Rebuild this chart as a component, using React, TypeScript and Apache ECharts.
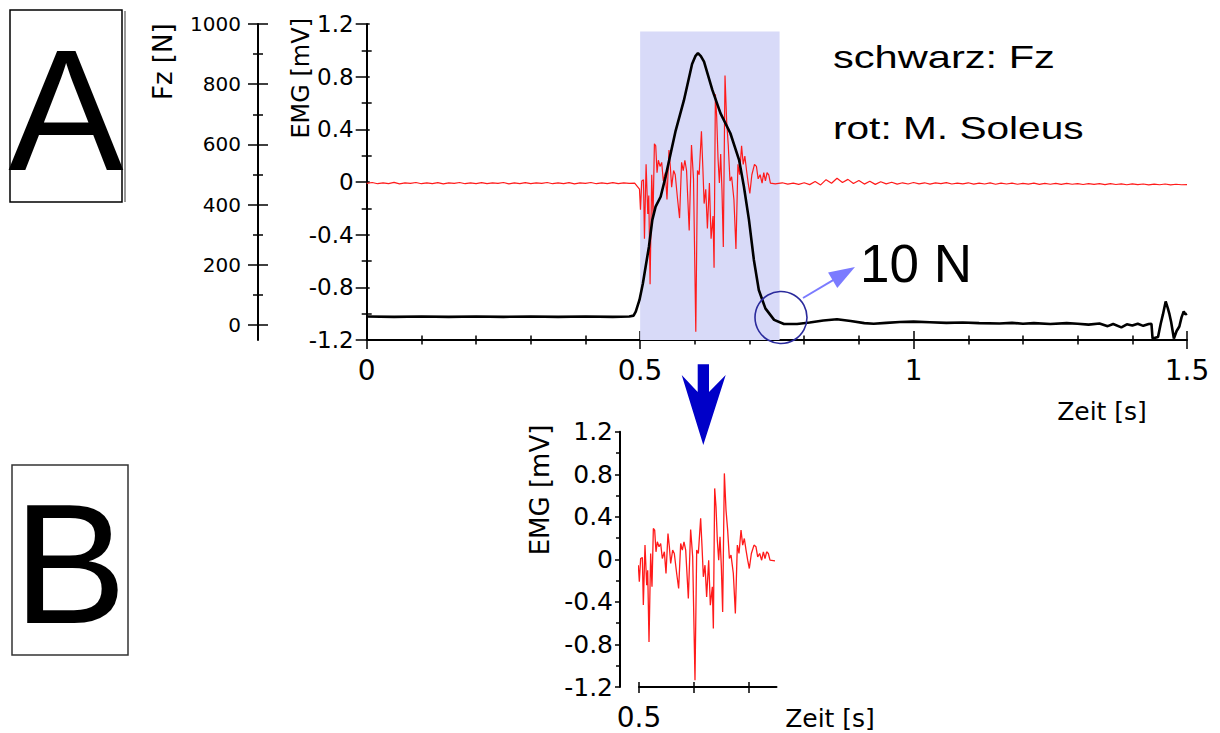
import React, { useEffect, useRef } from "react";
import * as echarts from "echarts";

// ---------- data ----------
const emgPreT = [0, 0.01, 0.02, 0.03, 0.04, 0.05, 0.06, 0.07, 0.08, 0.09, 0.1, 0.11, 0.12, 0.13, 0.14, 0.15, 0.16, 0.17, 0.18, 0.19, 0.2, 0.21, 0.22, 0.23, 0.24, 0.25, 0.26, 0.27, 0.28, 0.29, 0.3, 0.31, 0.32, 0.33, 0.34, 0.35, 0.36, 0.37, 0.38, 0.39, 0.4, 0.41, 0.42, 0.43, 0.44, 0.45, 0.46, 0.47, 0.48, 0.49];
const emgPreV = [-0.01, -0.004, -0.013, -0.006, -0.012, -0.003, -0.014, -0.007, -0.011, -0.004, -0.013, -0.006, -0.012, -0.005, -0.014, -0.006, -0.011, -0.004, -0.013, -0.007, -0.012, -0.005, -0.013, -0.006, -0.011, -0.004, -0.014, -0.006, -0.012, -0.005, -0.013, -0.007, -0.011, -0.004, -0.013, -0.006, -0.012, -0.005, -0.014, -0.006, -0.011, -0.004, -0.013, -0.007, -0.012, -0.005, -0.013, -0.006, -0.011, -0.008];

const emgBurstT = [0.4988, 0.5006, 0.503, 0.5061, 0.5079, 0.5109, 0.514, 0.5158, 0.5182, 0.5212, 0.5236, 0.5261, 0.5285, 0.5309, 0.5333, 0.5364, 0.5394, 0.5424, 0.5461, 0.5491, 0.5527, 0.5552, 0.5576, 0.5612, 0.5642, 0.5685, 0.5721, 0.5758, 0.5788, 0.5818, 0.5849, 0.5897, 0.5939, 0.5976, 0.6018, 0.6049, 0.6079, 0.6097, 0.6121, 0.6146, 0.617, 0.62, 0.623, 0.6267, 0.6297, 0.6333, 0.6352, 0.6376, 0.64, 0.6424, 0.6449, 0.6473, 0.6497, 0.6521, 0.6552, 0.6582, 0.6612, 0.6643, 0.6673, 0.6715, 0.6752, 0.6788, 0.6818, 0.6855, 0.6885, 0.6915, 0.6946, 0.6976, 0.7006, 0.7043, 0.7091, 0.7127, 0.7158, 0.7194, 0.723, 0.7261, 0.7291, 0.7321, 0.7352, 0.7382, 0.7473];
const emgBurstV = [-0.055, -0.21, 0.008, 0.017, -0.43, 0.134, -0.243, -0.102, -0.776, 0.055, -0.258, 0.29, 0.275, 0.071, 0.165, 0.118, 0.149, 0.008, 0.071, -0.133, 0.243, 0.118, -0.039, 0.087, 0.055, -0.133, -0.274, 0.149, 0.087, 0.165, 0.087, -0.368, 0.281, 0.024, -1.137, 0.087, 0.055, 0.196, 0.385, 0.118, -0.164, -0.055, -0.353, -0.008, -0.431, -0.258, -0.651, 0.667, 0.494, 0.181, -0.008, 0.212, -0.07, -0.494, 0.808, 0.463, 0.275, 0.008, 0.04, -0.133, -0.509, 0.134, 0.055, 0.275, 0.134, 0.196, 0.087, -0.008, -0.086, 0.055, 0.134, 0.118, 0.024, 0.055, -0.008, 0.071, 0.008, 0.071, 0.055, -0.008, -0.014];

const emgPostT = [0.75, 0.76, 0.77, 0.78, 0.79, 0.8, 0.81, 0.82, 0.83, 0.84, 0.85, 0.86, 0.87, 0.88, 0.89, 0.9, 0.91, 0.92, 0.93, 0.94, 0.95, 0.96, 0.97, 0.98, 0.99, 1.0, 1.01, 1.02, 1.03, 1.04, 1.05, 1.06, 1.07, 1.08, 1.09, 1.1, 1.11, 1.12, 1.13, 1.14, 1.15, 1.16, 1.17, 1.18, 1.19, 1.2, 1.21, 1.22, 1.23, 1.24, 1.25, 1.26, 1.27, 1.28, 1.29, 1.3, 1.31, 1.32, 1.33, 1.34, 1.35, 1.36, 1.37, 1.38, 1.39, 1.4, 1.41, 1.42, 1.43, 1.44, 1.45, 1.46, 1.47, 1.48, 1.49, 1.5];
const emgPostV = [-0.012, -0.006, -0.016, -0.008, -0.018, -0.006, -0.02, 0.004, -0.022, 0.018, -0.01, 0.028, -0.004, 0.02, -0.012, 0.012, -0.016, 0.006, -0.018, 0.002, -0.014, -0.002, -0.016, -0.006, -0.015, -0.004, -0.014, -0.006, -0.016, -0.007, -0.013, -0.005, -0.015, -0.008, -0.014, -0.006, -0.016, -0.009, -0.015, -0.007, -0.017, -0.009, -0.015, -0.008, -0.017, -0.01, -0.016, -0.009, -0.018, -0.011, -0.017, -0.01, -0.018, -0.011, -0.017, -0.012, -0.019, -0.012, -0.018, -0.013, -0.02, -0.013, -0.019, -0.014, -0.021, -0.014, -0.02, -0.015, -0.022, -0.016, -0.021, -0.015, -0.022, -0.017, -0.021, -0.02];

const fzT = [0, 0.05, 0.1, 0.15, 0.2, 0.25, 0.3, 0.35, 0.4, 0.45, 0.48, 0.488, 0.492, 0.4988, 0.505, 0.5101, 0.5161, 0.5223, 0.5283, 0.5375, 0.5466, 0.565, 0.58, 0.595, 0.601, 0.6057, 0.611, 0.6168, 0.632, 0.647, 0.665, 0.681, 0.6898, 0.699, 0.708, 0.717, 0.729, 0.745, 0.763, 0.787, 0.81, 0.835, 0.86, 0.885, 0.91, 0.927, 0.95, 0.975, 1.0, 1.03, 1.06, 1.09, 1.12, 1.157, 1.18, 1.2, 1.22, 1.25, 1.28, 1.3, 1.32, 1.34, 1.355, 1.365, 1.38, 1.39, 1.4, 1.41, 1.42, 1.43, 1.435, 1.437, 1.447, 1.452, 1.456, 1.461, 1.465, 1.468, 1.471, 1.476, 1.481, 1.486, 1.49, 1.494, 1.497, 1.5];
const fzV = [28, 27, 28, 27, 28, 27, 28, 27, 28, 27, 28, 31, 44, 83, 138, 194, 260, 349, 393, 426, 493, 646, 746, 867, 893, 903, 893, 875, 781, 703, 637, 548, 459, 349, 216, 116, 55, 17, 3, 3, 8, 15, 19, 13, 6, 4, 7, 10, 11, 9, 7, 8, 6, 5, 7, 4, 6, 3, 6, 4, 1, 5, -4, 3, -8, 2, -2, 4, -3, 3, 4, -45, -40, 5, 35, 78, 55, 35, 10, -45, -20, -5, 25, 45, 35, 38];

const fzMajorTicks = [0, 200, 400, 600, 800, 1000];
const fzMinorTicks = [100, 300, 500, 700, 900];
const zoomTickValues = [0.5, 0.6, 0.7];
const zoomLabelValues = [0.5];
const shadeRange = [0.5, 0.755];
const shadeEmgTop = 1.143;

// ---------- helpers ----------
const zip = (t: number[], v: number[]) => t.map((x, i) => [x, v[i]]);
const AX = "'DejaVu Sans', sans-serif";
const AR = "'Liberation Sans', Arial, sans-serif";
const BLACK = "#000";
const plain = (v: number) => String(Math.round(v * 1000) / 1000);

function tickAxis(base: any, inside: boolean, len: number, minorLen: number | null, showLine: boolean, label: any) {
  return {
    ...base,
    axisLine: { show: showLine, onZero: false, lineStyle: { color: BLACK, width: 2 } },
    axisTick: { show: true, inside, length: len, lineStyle: { color: BLACK, width: 1.5 }, ...(base.tickValues ? { customValues: base.tickValues } : {}) },
    minorTick: minorLen ? { show: true, splitNumber: base.minorSplit || 2, length: minorLen, lineStyle: { color: BLACK, width: 1.5 } } : { show: false },
    axisLabel: label ? { show: true, color: BLACK, fontFamily: AX, formatter: plain, ...label } : { show: false },
    splitLine: { show: false },
    minorSplitLine: { show: false },
  };
}

function txt(text: string, x: number, y: number, size: number, family: string, opts: any = {}) {
  const { align = "center", rotation = 0, scaleX = 1, color = BLACK, weight = "normal" } = opts;
  return {
    type: "text",
    x,
    y,
    rotation,
    scaleX,
    z: 20,
    silent: true,
    style: {
      text,
      fill: color,
      fontSize: size,
      fontFamily: family,
      fontWeight: weight,
      align,
      textAlign: align,
      verticalAlign: "middle",
      textVerticalAlign: "middle",
    },
  };
}

export default function App() {
  const ref = useRef<HTMLDivElement>(null);

  useEffect(() => {
    if (!ref.current) return;
    const chart = echarts.init(ref.current, null, { renderer: "svg" });

    const xTop = { type: "value", gridIndex: 0, min: 0, max: 1.5, interval: 0.5, position: "bottom", offset: 0, minorSplit: 5 };
    const xBot = { type: "value", gridIndex: 1, min: 0.5, max: 0.75, interval: 0.1, position: "bottom", offset: 0, tickValues: zoomTickValues };
    const yEmg = { type: "value", gridIndex: 0, min: -1.2, max: 1.2, interval: 0.4, position: "left", offset: 0, minorSplit: 2 };
    const yFz = { type: "value", gridIndex: 0, min: -50, max: 1000, position: "left", offset: 108.7, tickValues: fzMajorTicks };
    const yFzMinor = { type: "value", gridIndex: 0, min: -50, max: 1000, position: "left", offset: 108.7, tickValues: fzMinorTicks };
    const yEmgB = { type: "value", gridIndex: 1, min: -1.2, max: 1.2, interval: 0.4, position: "left", offset: 19, minorSplit: 2 };

    const clean = (a: any) => {
      const { minorSplit, tickValues, ...rest } = a;
      return rest;
    };

    const xAxes = [
      clean(tickAxis(xTop, false, 9, 4.5, true, { margin: 16, fontSize: 28 })),
      clean(tickAxis(xTop, true, 9, 4.5, false, null)),
      clean(tickAxis(xBot, false, 6, null, true, { margin: 16, fontSize: 28, customValues: zoomLabelValues })),
      clean(tickAxis(xBot, true, 5, null, false, null)),
    ];
    const yAxes = [
      clean(tickAxis(yEmg, false, 11, 5, true, { margin: 13, fontSize: 23 })),
      clean(tickAxis(yEmg, true, 3, 5, false, null)),
      clean(tickAxis(yFz, false, 10, null, true, { margin: 17, fontSize: 20, customValues: fzMajorTicks })),
      clean(tickAxis(yFz, true, 10, null, false, null)),
      clean(tickAxis(yFzMinor, false, 5, null, false, null)),
      clean(tickAxis(yFzMinor, true, 5, null, false, null)),
      clean(tickAxis(yEmgB, false, 5, 4, true, { margin: 7, fontSize: 25 })),
    ];

    // arrow geometry (annotation)
    const tip = [855, 267];
    const u = [0.859, -0.512];
    const p = [0.512, 0.859];
    const headLen = 26;
    const headHalf = 9;
    const base = [tip[0] - headLen * u[0], tip[1] - headLen * u[1]];

    const option: any = {
      animation: false,
      backgroundColor: "#fff",
      textStyle: { fontFamily: AX },
      grid: [
        { left: 366.7, top: 24, width: 820.3, height: 316, outerBoundsMode: "none", containLabel: false },
        { left: 639, top: 431.7, width: 137.5, height: 255.3, outerBoundsMode: "none", containLabel: false },
      ],
      xAxis: xAxes,
      yAxis: yAxes,
      series: [
        {
          name: "EMG",
          type: "line",
          xAxisIndex: 0,
          yAxisIndex: 0,
          data: [...zip(emgPreT, emgPreV), ...zip(emgBurstT, emgBurstV), ...zip(emgPostT, emgPostV)],
          showSymbol: false,
          symbol: "none",
          silent: true,
          z: 2,
          lineStyle: { color: "#ff1a1a", width: 1.2 },
          markArea: {
            silent: true,
            z: 1,
            itemStyle: { color: "#d8daf8", opacity: 1 },
            data: [[{ xAxis: shadeRange[0], yAxis: shadeEmgTop }, { xAxis: shadeRange[1], yAxis: -1.2 }]],
          },
        },
        {
          name: "Fz",
          type: "line",
          xAxisIndex: 0,
          yAxisIndex: 2,
          data: zip(fzT, fzV),
          showSymbol: false,
          symbol: "none",
          silent: true,
          z: 3,
          lineStyle: { color: "#000", width: 2.6 },
        },
        {
          name: "EMG zoom",
          type: "line",
          xAxisIndex: 2,
          yAxisIndex: 6,
          data: zip(emgBurstT, emgBurstV),
          showSymbol: false,
          symbol: "none",
          silent: true,
          z: 2,
          lineStyle: { color: "#ff1a1a", width: 1.3 },
        },
      ],
      graphic: [
        // box A
        { type: "rect", z: 20, silent: true, shape: { x: 10, y: 10, width: 112, height: 192 }, style: { fill: "none", stroke: "#000", lineWidth: 1.5 } },
        { type: "line", z: 20, silent: true, shape: { x1: 125, y1: 11, x2: 125, y2: 202 }, style: { stroke: "#777", lineWidth: 1.5 } },
        txt("A", 66, 110, 173, AR),
        // box B
        { type: "rect", z: 20, silent: true, shape: { x: 12, y: 465, width: 116, height: 190 }, style: { fill: "none", stroke: "#333", lineWidth: 1.5 } },
        txt("B", 70, 564, 170, AR),
        // axis titles
        txt("Fz [N]", 163.3, 61.7, 26, AX, { rotation: Math.PI / 2 }),
        txt("EMG [mV]", 300.8, 78.3, 24, AX, { rotation: Math.PI / 2 }),
        txt("Zeit [s]", 1102, 411, 25, AX),
        txt("EMG [mV]", 540, 490, 26, AX, { rotation: Math.PI / 2 }),
        txt("Zeit [s]", 830, 718, 25, AX),
        // legend texts
        txt("schwarz: Fz", 833, 56.5, 32, AR, { align: "left", scaleX: 1.3 }),
        txt("rot: M. Soleus", 833, 128.2, 32, AR, { align: "left", scaleX: 1.27 }),
        txt("10 N", 860, 263.3, 53, AR, { align: "left" }),
        // circle + arrow
        { type: "circle", z: 20, silent: true, shape: { cx: 781, cy: 317.5, r: 26 }, style: { fill: "none", stroke: "#2a2a9c", lineWidth: 1.6 } },
        { type: "line", z: 20, silent: true, shape: { x1: 803, y1: 298, x2: base[0] + 2 * u[0], y2: base[1] + 2 * u[1] }, style: { stroke: "#7b7bff", lineWidth: 2 } },
        {
          type: "polygon",
          z: 20,
          silent: true,
          shape: {
            points: [
              tip,
              [base[0] + headHalf * p[0], base[1] + headHalf * p[1]],
              [base[0] - headHalf * p[0], base[1] - headHalf * p[1]],
            ],
          },
          style: { fill: "#7b7bff" },
        },
        // big down arrow
        {
          type: "polygon",
          z: 20,
          silent: true,
          shape: {
            points: [
              [697.7, 364.3],
              [709, 364.3],
              [709, 392],
              [725.7, 375],
              [703.3, 445],
              [681.7, 375],
              [697.7, 392],
            ],
          },
          style: { fill: "#0000c8" },
        },
      ],
    };

    chart.setOption(option);
    return () => chart.dispose();
  }, []);

  return (
    <div
      ref={ref}
      style={{ position: "fixed", left: 0, top: 0, width: 1220, height: 733, background: "#fff" }}
    />
  );
}
